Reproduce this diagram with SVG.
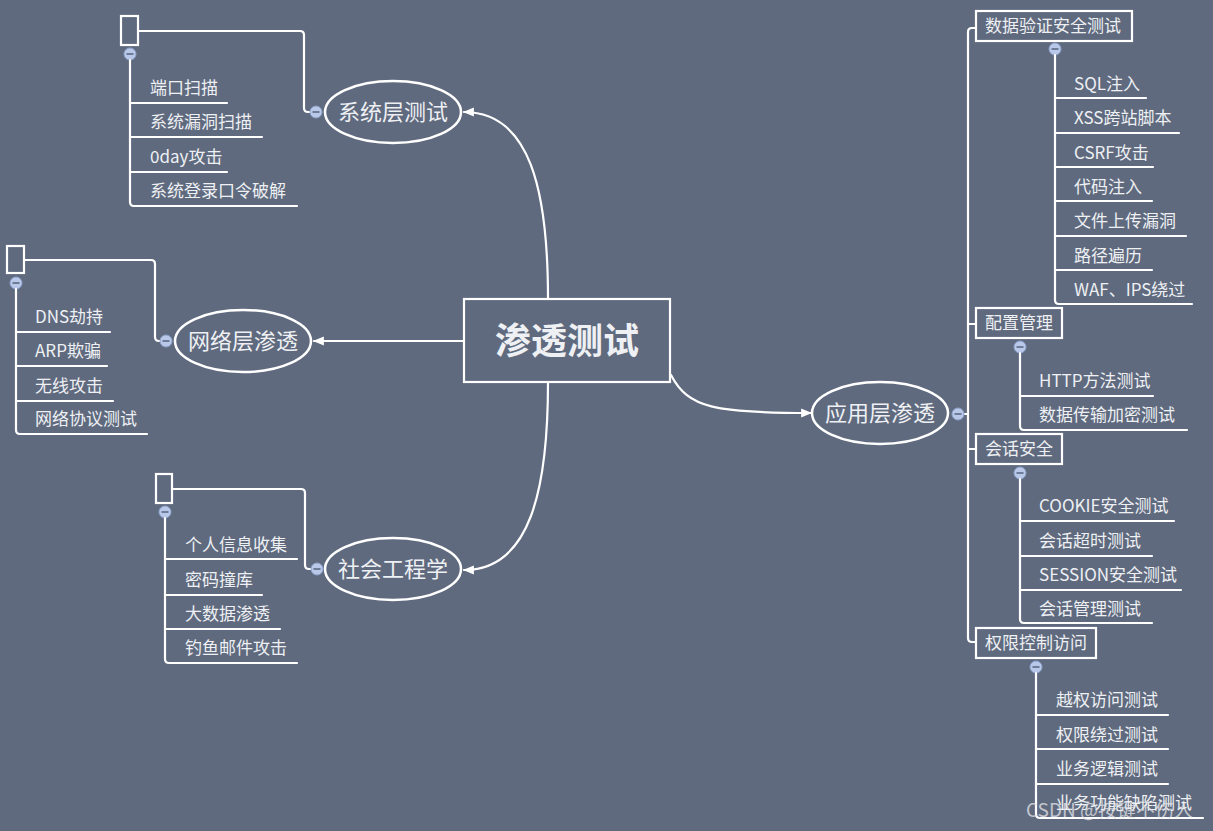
<svg xmlns="http://www.w3.org/2000/svg" width="1213" height="831" viewBox="0 0 1213 831">
<defs>
<style>
.ln{fill:none;stroke:#ffffff;stroke-width:2.2;stroke-linecap:round;stroke-linejoin:round}
.bx{fill:none;stroke:#ffffff;stroke-width:2.2}
.el{fill:none;stroke:#ffffff;stroke-width:2.5}
.t{font-family:"Noto Sans CJK SC","Noto Sans",sans-serif;fill:#eef0f4;font-size:17px}
.tb{font-family:"Noto Sans CJK SC","Noto Sans",sans-serif;fill:#eef0f4;font-size:17px}
.te{font-family:"Noto Sans CJK SC","Noto Sans",sans-serif;fill:#eef0f4;font-size:22px;text-anchor:middle}
.tc{font-family:"Noto Sans CJK SC","Noto Sans",sans-serif;fill:#eef0f4;font-size:36px;font-weight:bold;text-anchor:middle}
.cc{fill:#b9c8e8;stroke:#8ea3cc;stroke-width:1}
.cm{stroke:#55647f;stroke-width:1.5}
</style>
<marker id="ah" viewBox="0 0 10 10" refX="9" refY="5" markerWidth="5" markerHeight="5" orient="auto">
<path d="M0,1 L10,5 L0,9 z" fill="#ffffff"/>
</marker>
<g id="minus">
<circle class="cc" r="6"/>
<line class="cm" x1="-3.5" y1="0" x2="3.5" y2="0"/>
</g>
</defs>
<rect width="1213" height="831" fill="#5f6a7e"/>

<g id="connectors">
<path class="ln" d="M548,299 C548,190 530,112 464,112" marker-end="url(#ah)"/>
<path class="ln" d="M464,341 H314" marker-end="url(#ah)"/>
<path class="ln" d="M548,382 C548,490 530,570 464,570" marker-end="url(#ah)"/>
<path class="ln" d="M671,375 C688,408 715,413 811,413" marker-end="url(#ah)"/>
</g>

<g id="root">
<rect class="bx" x="464" y="299" width="206" height="83"/>
<text class="tc" x="567" y="354">渗透测试</text>
</g>

<g id="sys">
<ellipse class="el" cx="393" cy="112" rx="68" ry="31"/>
<text class="te" x="393" y="120">系统层测试</text>
<path class="ln" d="M310,112 H308 Q304,112 304,108 V35 Q304,31 300,31 H138"/>
<use href="#minus" x="316" y="112"/>
<rect class="bx" x="121" y="16" width="17" height="29"/>
<use href="#minus" x="130" y="54"/>
<path class="ln" d="M130,60 V202 Q130,206 134,206 H297"/>
<path class="ln" d="M130,103 H227 M130,137 H262 M130,172 H227"/>
<text class="t" x="150" y="94">端口扫描</text>
<text class="t" x="150" y="128">系统漏洞扫描</text>
<text class="t" x="150" y="163">0day攻击</text>
<text class="t" x="150" y="197">系统登录口令破解</text>
</g>

<g id="net">
<ellipse class="el" cx="243" cy="341" rx="68" ry="31"/>
<text class="te" x="243" y="349">网络层渗透</text>
<path class="ln" d="M160,341 H159 Q155,341 155,337 V264 Q155,260 151,260 H24"/>
<use href="#minus" x="166" y="341"/>
<rect class="bx" x="7" y="246" width="17" height="27"/>
<use href="#minus" x="16" y="283"/>
<path class="ln" d="M16,289 V430 Q16,434 20,434 H147"/>
<path class="ln" d="M16,332 H110 M16,366 H107 M16,401 H113"/>
<text class="t" x="35" y="323">DNS劫持</text>
<text class="t" x="35" y="357">ARP欺骗</text>
<text class="t" x="35" y="392">无线攻击</text>
<text class="t" x="35" y="425">网络协议测试</text>
</g>

<g id="social">
<ellipse class="el" cx="393" cy="569" rx="68" ry="31"/>
<text class="te" x="393" y="577">社会工程学</text>
<path class="ln" d="M311,569 H309 Q305,569 305,565 V493 Q305,489 301,489 H172"/>
<use href="#minus" x="317" y="569"/>
<rect class="bx" x="156" y="474" width="16" height="29"/>
<use href="#minus" x="165" y="512"/>
<path class="ln" d="M165,518 V659 Q165,663 169,663 H297"/>
<path class="ln" d="M165,559 H297 M165,595 H262 M165,629 H280"/>
<text class="t" x="185" y="551">个人信息收集</text>
<text class="t" x="185" y="586">密码撞库</text>
<text class="t" x="185" y="620">大数据渗透</text>
<text class="t" x="185" y="654">钓鱼邮件攻击</text>
</g>

<g id="app">
<ellipse class="el" cx="880" cy="413" rx="68" ry="31"/>
<text class="te" x="880" y="421">应用层渗透</text>
<path class="ln" d="M964,414 H968"/>
<path class="ln" d="M976,28 H972 Q968,28 968,32 V638 Q968,642 972,642 H976"/>
<path class="ln" d="M968,324 H976 M968,449 H976"/>
<use href="#minus" x="958" y="414"/>
</g>

<g id="data">
<rect class="bx" x="976" y="11" width="156" height="30"/>
<text class="tb" x="985" y="32">数据验证安全测试</text>
<use href="#minus" x="1055" y="49"/>
<path class="ln" d="M1055,55 V300 Q1055,304 1059,304 H1192"/>
<path class="ln" d="M1055,98 H1146 M1055,133 H1179 M1055,167 H1153 M1055,201 H1152 M1055,236 H1186 M1055,270 H1152"/>
<text class="t" x="1074" y="90">SQL注入</text>
<text class="t" x="1074" y="124">XSS跨站脚本</text>
<text class="t" x="1074" y="159">CSRF攻击</text>
<text class="t" x="1074" y="193">代码注入</text>
<text class="t" x="1074" y="227">文件上传漏洞</text>
<text class="t" x="1074" y="262">路径遍历</text>
<text class="t" x="1074" y="296">WAF、IPS绕过</text>
</g>

<g id="config">
<rect class="bx" x="976" y="308" width="86" height="30"/>
<text class="tb" x="985" y="329">配置管理</text>
<use href="#minus" x="1020" y="347"/>
<path class="ln" d="M1020,353 V426 Q1020,430 1024,430 H1187"/>
<path class="ln" d="M1020,396 H1153"/>
<text class="t" x="1039" y="387">HTTP方法测试</text>
<text class="t" x="1039" y="421">数据传输加密测试</text>
</g>

<g id="session">
<rect class="bx" x="976" y="434" width="86" height="30"/>
<text class="tb" x="985" y="455">会话安全</text>
<use href="#minus" x="1020" y="473"/>
<path class="ln" d="M1020,479 V619 Q1020,623 1024,623 H1152"/>
<path class="ln" d="M1020,521 H1174 M1020,556 H1152 M1020,590 H1181"/>
<text class="t" x="1039" y="512">COOKIE安全测试</text>
<text class="t" x="1039" y="547">会话超时测试</text>
<text class="t" x="1039" y="581">SESSION安全测试</text>
<text class="t" x="1039" y="615">会话管理测试</text>
</g>

<g id="access">
<rect class="bx" x="976" y="628" width="120" height="30"/>
<text class="tb" x="985" y="649">权限控制访问</text>
<use href="#minus" x="1036" y="667"/>
<path class="ln" d="M1036,673 V814 Q1036,818 1040,818 H1203"/>
<path class="ln" d="M1036,715 H1168 M1036,749 H1168 M1036,784 H1168"/>
<text class="t" x="1056" y="706">越权访问测试</text>
<text class="t" x="1056" y="741">权限绕过测试</text>
<text class="t" x="1056" y="775">业务逻辑测试</text>
<text class="t" x="1056" y="809">业务功能缺陷测试</text>
</g>

<text x="1026" y="817" font-family="'Noto Sans CJK SC','Noto Sans',sans-serif" font-size="19" fill="#e6e6ea" fill-opacity="0.75">CSDN @按键不伤人</text>
</svg>
